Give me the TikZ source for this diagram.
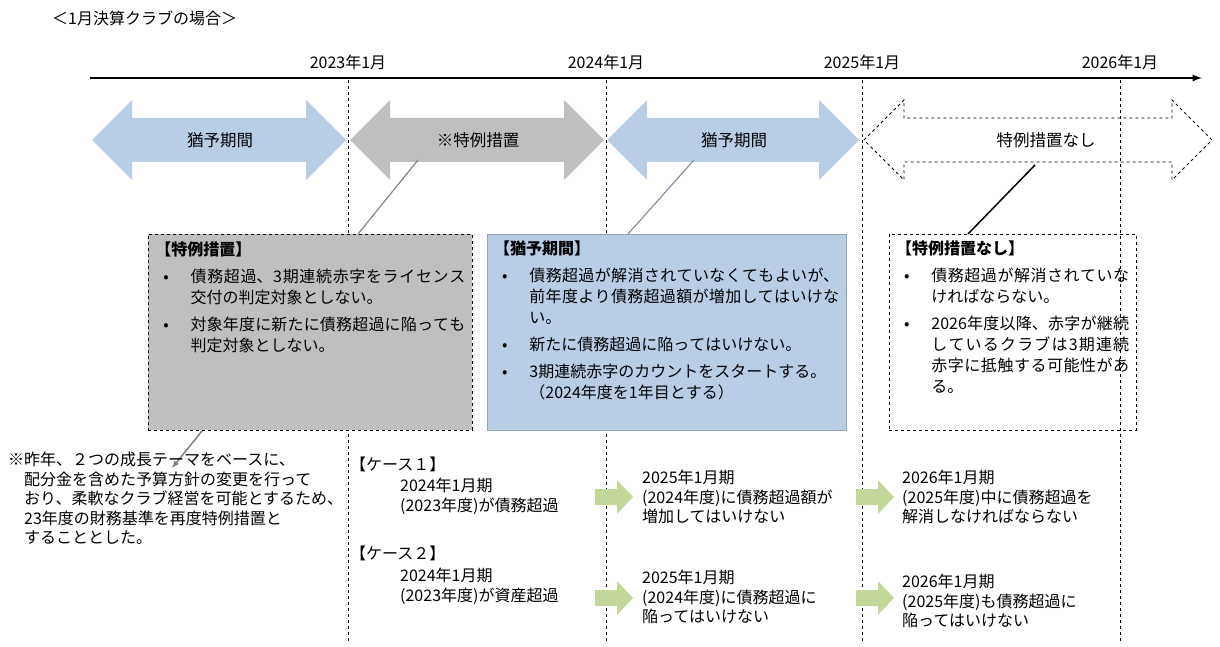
\documentclass[tikz,border=0pt]{standalone}
\usepackage{fontspec}
\setmainfont{Noto Sans CJK JP}
\XeTeXlinebreaklocale "ja"
\XeTeXlinebreakskip=0pt plus 1pt
\usetikzlibrary{positioning}
\definecolor{paleblue}{HTML}{B9CDE5}
\definecolor{midgray}{HTML}{BFBFBF}
\definecolor{palegreen}{HTML}{C4D79B}
\newcommand{\itm}[1]{\par\hangindent=2.2em\hangafter=1\noindent\makebox[2.2em][l]{\hspace{0.5em}•}#1\par\vspace{6pt}}
\newcommand{\notebody}[2]{\begin{minipage}[t][182pt][t]{#1}#2\end{minipage}}
% double arrow from #1 to #2 (x), style #3
\newcommand{\period}[3]{\path[#3] (#1,140) -- ++(40,-40) -- ++(0,18) -- (#2-40,118) -- ++(0,-18) -- (#2,140)
  -- (#2-40,180) -- ++(0,-18) -- (#1+40,162) -- ++(0,18) -- cycle;}
\newcommand{\stepgo}[2]{\fill[palegreen] (#1,#2-8) -- ++(22,0) -- ++(0,-9) -- ++(16,17) -- ++(-16,17) -- ++(0,-9) -- ++(-22,0) -- cycle;}
\tikzset{
  lbl/.style={font=\fontsize{16.5}{19}\selectfont, inner sep=0pt},
  notebox/.style={anchor=north west, inner sep=7pt, draw, dashed, thick,
    font=\fontsize{16}{21}\selectfont, align=left},
  casetxt/.style={anchor=north west, inner sep=0pt, align=left, font=\fontsize{16}{19.5}\selectfont},
  plain/.style={font=\fontsize{16}{18}\selectfont, inner sep=0pt}
}
\begin{document}
\begin{tikzpicture}[x=1pt,y=-1pt]
\useasboundingbox (0,0) rectangle (1220,647);

\node[plain, anchor=west] (title) at (52,18) {＜1月決算クラブの場合＞};

% timeline
\draw[line width=2.2pt, -latex] (90,78) -- (1202,78);
\foreach \x/\yr in {348/2023,606/2024,862/2025,1120/2026}{
  \node[plain] (yr\yr) at (\x,62) {\yr 年1月};
  \draw[dashed] (\x,80) -- (\x,642);
}

% periods
\period{92}{346}{fill=paleblue}
\period{350}{604}{fill=midgray}
\period{607}{859}{fill=paleblue}
\period{864}{1212}{draw, dashed, line width=0.8pt}
\node[lbl] (p1) at (220,140) {猶予期間};
\node[lbl] (p2) at (478,140) {※特例措置};
\node[lbl] (p3) at (734,140) {猶予期間};
\node[lbl] (p4) at (1046,140) {特例措置なし};

% notes
\node[notebox, fill=midgray] (n1) at (148,234) {\notebody{310pt}{%
\textbf{【特例措置】}\par\vspace{6pt}
\itm{債務超過、3期連続赤字をライセンス交付の判定対象としない。}
\itm{対象年度に新たに債務超過に陥っても判定対象としない。}}};
\node[notebox, fill=paleblue, solid, draw=paleblue!80!black, thin] (n2) at (487,234) {\notebody{345pt}{%
\textbf{【猶予期間】}\par\vspace{6pt}
\itm{債務超過が解消されていなくてもよいが、前年度より債務超過額が増加してはいけない。}
\itm{新たに債務超過に陥ってはいけない。}
\itm{3期連続赤字のカウントをスタートする。\\（2024年度を1年目とする）}}};
\node[notebox, thin] (n3) at (889,234) {\notebody{233pt}{%
\textbf{【特例措置なし】}\par\vspace{6pt}
\itm{債務超過が解消されていなければならない。}
\itm{2026年度以降、赤字が継続しているクラブは3期連続赤字に抵触する可能性がある。}}};

\draw[midgray!70!black, line width=1.2pt] (418,160) -- (358,234);
\draw[paleblue!70!black, line width=1.2pt] (694,160) -- (628,234);
\draw[line width=1.5pt] (1035,165) -- (968,234);
\draw[gray, line width=1.5pt, -latex] (202,431) -- (172,468);

% footnote
\node[casetxt] (fn) at (8,452) {※昨年、２つの成長テーマをベースに、\\\hspace*{1em}配分金を含めた予算方針の変更を行って\\\hspace*{1em}おり、柔軟なクラブ経営を可能とするため、\\\hspace*{1em}23年度の財務基準を再度特例措置と\\\hspace*{1em}することとした。};

% cases
\node[casetxt] (c1) at (350,457) {【ケース１】};
\node[casetxt] (c1a) at (400,478) {2024年1月期\\(2023年度)が債務超過};
\stepgo{595}{497}
\node[casetxt] (c1b) at (642,470) {2025年1月期\\(2024年度)に債務超過額が\\増加してはいけない};
\stepgo{856}{497}
\node[casetxt] (c1c) at (902,470) {2026年1月期\\(2025年度)中に債務超過を\\解消しなければならない};

\node[casetxt] (c2) at (350,546) {【ケース２】};
\node[casetxt] (c2a) at (400,568) {2024年1月期\\(2023年度)が資産超過};
\stepgo{595}{598}
\node[casetxt] (c2b) at (642,570) {2025年1月期\\(2024年度)に債務超過に\\陥ってはいけない};
\stepgo{856}{598}
\node[casetxt] (c2c) at (902,574) {2026年1月期\\(2025年度)も債務超過に\\陥ってはいけない};
\end{tikzpicture}
\end{document}
